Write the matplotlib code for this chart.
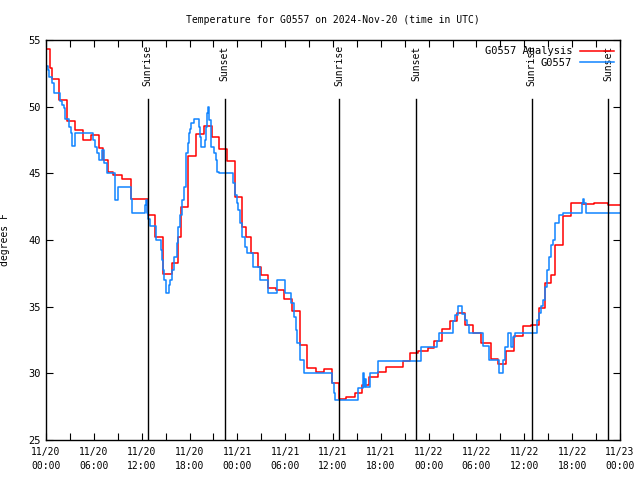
import matplotlib
matplotlib.use("Agg")
import matplotlib.pyplot as plt
import numpy as np

# ---- data (hours since 2024-11-20 00:00 UTC, degrees F) ----
analysis_hours = [0.0, 0.5, 0.7, 1.6, 2.6, 3.7, 4.7, 5.6, 6.65, 7.2, 7.8, 8.4, 9.5, 10.7,
                  12.75, 13.7, 14.7, 15.8, 16.5, 16.9, 17.8, 18.8, 19.8, 20.8, 21.7, 22.7,
                  23.7, 24.6, 25.1, 25.7, 26.6, 27.0, 27.8, 28.9, 29.9, 30.9, 31.9, 32.8,
                  33.9, 34.9, 35.9, 36.7, 37.6, 38.7, 39.6, 40.5, 41.6, 42.7, 44.8, 45.7,
                  46.6, 47.9, 48.7, 49.7, 50.7, 51.6, 52.6, 53.6, 54.6, 55.8, 56.7, 57.7,
                  58.7, 59.8, 60.8, 61.8, 62.6, 63.4, 63.9, 64.9, 65.9, 67.2, 68.8, 69.4,
                  70.5, 72.0]
analysis_temp = [54.3, 52.9, 52.1, 50.5, 48.9, 48.25, 47.5, 47.9, 46.9, 46.0, 45.1, 44.9,
                 44.55, 43.1, 41.9, 40.2, 37.45, 38.25, 40.25, 42.45, 46.3, 47.95, 48.55,
                 47.75, 46.8, 45.9, 43.25, 41.0, 40.25, 39.0, 38.0, 37.4, 36.4, 36.25, 35.6,
                 34.7, 32.1, 30.4, 30.1, 30.3, 29.25, 28.1, 28.25, 28.5, 29.1, 29.7, 30.1,
                 30.5, 30.9, 31.5, 31.7, 31.9, 32.4, 33.3, 33.9, 34.55, 33.6, 33.0, 32.3,
                 31.1, 30.7, 31.65, 32.8, 33.55, 33.6, 34.9, 36.75, 37.4, 39.6, 41.8, 42.8,
                 42.7, 42.75, 42.8, 42.6, 42.6]

obs_hours = [0.0, 0.2, 0.4, 0.7, 1.0, 1.7, 2.0, 2.2, 2.4, 2.9, 3.1, 3.3, 3.7, 5.9, 6.1,
             6.4, 6.7, 7.0, 7.3, 7.6, 8.6, 9.0, 10.7, 10.85, 12.4, 12.55, 12.7, 12.85,
             13.0, 13.75, 14.4, 14.5, 14.65, 14.8, 15.0, 15.4, 15.6, 15.8, 16.1, 16.4,
             16.6, 16.8, 17.1, 17.3, 17.5, 17.6, 17.8, 17.9, 18.1, 18.2, 18.55, 19.2,
             19.3, 19.5, 20.0, 20.1, 20.2, 20.35, 20.5, 20.65, 20.75, 21.1, 21.3, 21.5,
             21.7, 23.5, 23.65, 23.9, 24.1, 24.3, 24.6, 24.9, 25.2, 26.0, 26.9, 27.8,
             29.0, 30.0, 30.7, 31.1, 31.3, 31.5, 31.8, 32.4, 35.9, 36.1, 36.3, 39.15,
             39.8, 39.9, 40.0, 40.1, 40.6, 41.7, 47.0, 49.1, 49.3, 51.0, 51.3, 51.7,
             52.2, 52.5, 52.8, 53.1, 54.8, 55.6, 56.8, 57.3, 57.6, 57.9, 58.3, 58.6,
             58.8, 61.6, 61.9, 62.1, 62.4, 62.6, 62.9, 63.1, 63.4, 63.6, 63.9, 64.3,
             64.8, 67.2, 67.35, 67.5, 67.7, 72.0]
obs_temp = [53.05, 52.75, 52.25, 51.75, 51.0, 50.4, 50.1, 49.9, 49.1, 48.5, 48.0, 47.05,
            48.0, 47.5, 47.0, 46.5, 46.0, 46.75, 45.75, 45.0, 43.0, 44.0, 43.1, 42.0,
            42.6, 43.0, 42.0, 41.6, 41.05, 40.0, 39.25, 38.5, 37.75, 37.0, 36.05, 36.6,
            37.0, 37.75, 38.75, 39.75, 41.0, 41.9, 43.0, 44.0, 45.5, 46.5, 47.25, 48.0,
            48.3, 48.8, 49.05, 48.5, 47.75, 47.0, 47.5, 48.5, 49.5, 50.0, 49.0, 47.75,
            47.0, 46.5, 46.0, 45.1, 45.0, 44.25, 43.4, 42.8, 42.25, 41.25, 40.25, 39.5,
            39.0, 38.0, 37.0, 36.0, 37.0, 36.0, 35.25, 34.25, 33.25, 32.25, 31.0, 30.0,
            29.25, 28.5, 28.0, 28.9, 30.0, 29.0, 29.6, 29.0, 30.0, 30.95, 32.0, 32.4,
            33.0, 33.9, 34.4, 35.05, 34.45, 34.0, 33.6, 33.0, 32.05, 31.0, 30.0, 31.0,
            32.0, 33.0, 32.0, 32.75, 33.0, 34.0, 34.5, 35.05, 35.5, 36.5, 37.75, 38.75,
            39.6, 40.0, 41.25, 41.9, 42.0, 42.75, 43.05, 42.75, 42.0, 42.0]

sun_hours = [12.76, 22.4, 36.8, 46.45, 60.9, 70.55]
sun_labels = ["Sunrise", "Sunset", "Sunrise", "Sunset", "Sunrise", "Sunset"]

xtick_hours = list(range(0, 73, 6))
xtick_labels = ["11/20\n00:00", "11/20\n06:00", "11/20\n12:00", "11/20\n18:00",
                "11/21\n00:00", "11/21\n06:00", "11/21\n12:00", "11/21\n18:00",
                "11/22\n00:00", "11/22\n06:00", "11/22\n12:00", "11/22\n18:00",
                "11/23\n00:00"]
ytick_vals = [25, 30, 35, 40, 45, 50, 55]

FONT = "DejaVu Sans Mono"
FS = 7
plt.rcParams['font.family'] = [FONT, 'DejaVu Sans']

fig = plt.figure(figsize=(6.4, 4.8), dpi=100)
ax = fig.add_axes([46/640, 1-440/480, 574/640, 400/480])

ax.plot(analysis_hours, analysis_temp, drawstyle='steps-post', color='#ff0000',
        lw=1.1, label='G0557 Analysis')
ax.plot(obs_hours, obs_temp, drawstyle='steps-post', color='#1084ff',
        lw=1.1, label='G0557')

for h, lab in zip(sun_hours, sun_labels):
    ax.plot([h, h], [25, 50.6], color='black', lw=1.0)
    ax.text(h, 54.6, lab, rotation=90, ha='center', va='top', fontsize=FS,
            family=FONT)

ax.set_xlim(0, 72)
ax.set_ylim(25, 55)
ax.set_xticks(xtick_hours)
ax.set_xticklabels(xtick_labels, fontsize=FS, family=FONT, linespacing=1.5)
ax.set_xticks(np.arange(0, 73, 3), minor=True)
ax.set_yticks(ytick_vals)
ax.set_yticklabels([str(v) for v in ytick_vals], fontsize=FS + 0.5, family=FONT)
ax.tick_params(axis='both', which='both', direction='in', top=True, right=True,
               length=5, width=0.8, pad=5)
ax.tick_params(axis='y', pad=4)
ax.tick_params(axis='x', which='minor', labelbottom=False)
for s in ax.spines.values():
    s.set_linewidth(1.0)

ax.set_ylabel('degrees F', fontsize=FS, family=FONT)
ax.yaxis.set_label_coords((10 - 46) / 574, 0.5)
ax.set_title('Temperature for G0557 on 2024-Nov-20 (time in UTC)', fontsize=FS,
             family=FONT, pad=12)

leg = ax.legend(loc='upper right', frameon=False,
                markerfirst=False, handlelength=3.2, borderaxespad=0.2,
                labelspacing=0.15, handletextpad=0.8,
                prop={'family': FONT, 'size': FS + 0.5})
for t in leg.get_texts():
    t.set_ha('right')
leg._legend_box.align = 'right'

fig.savefig('out.png', dpi=100)
